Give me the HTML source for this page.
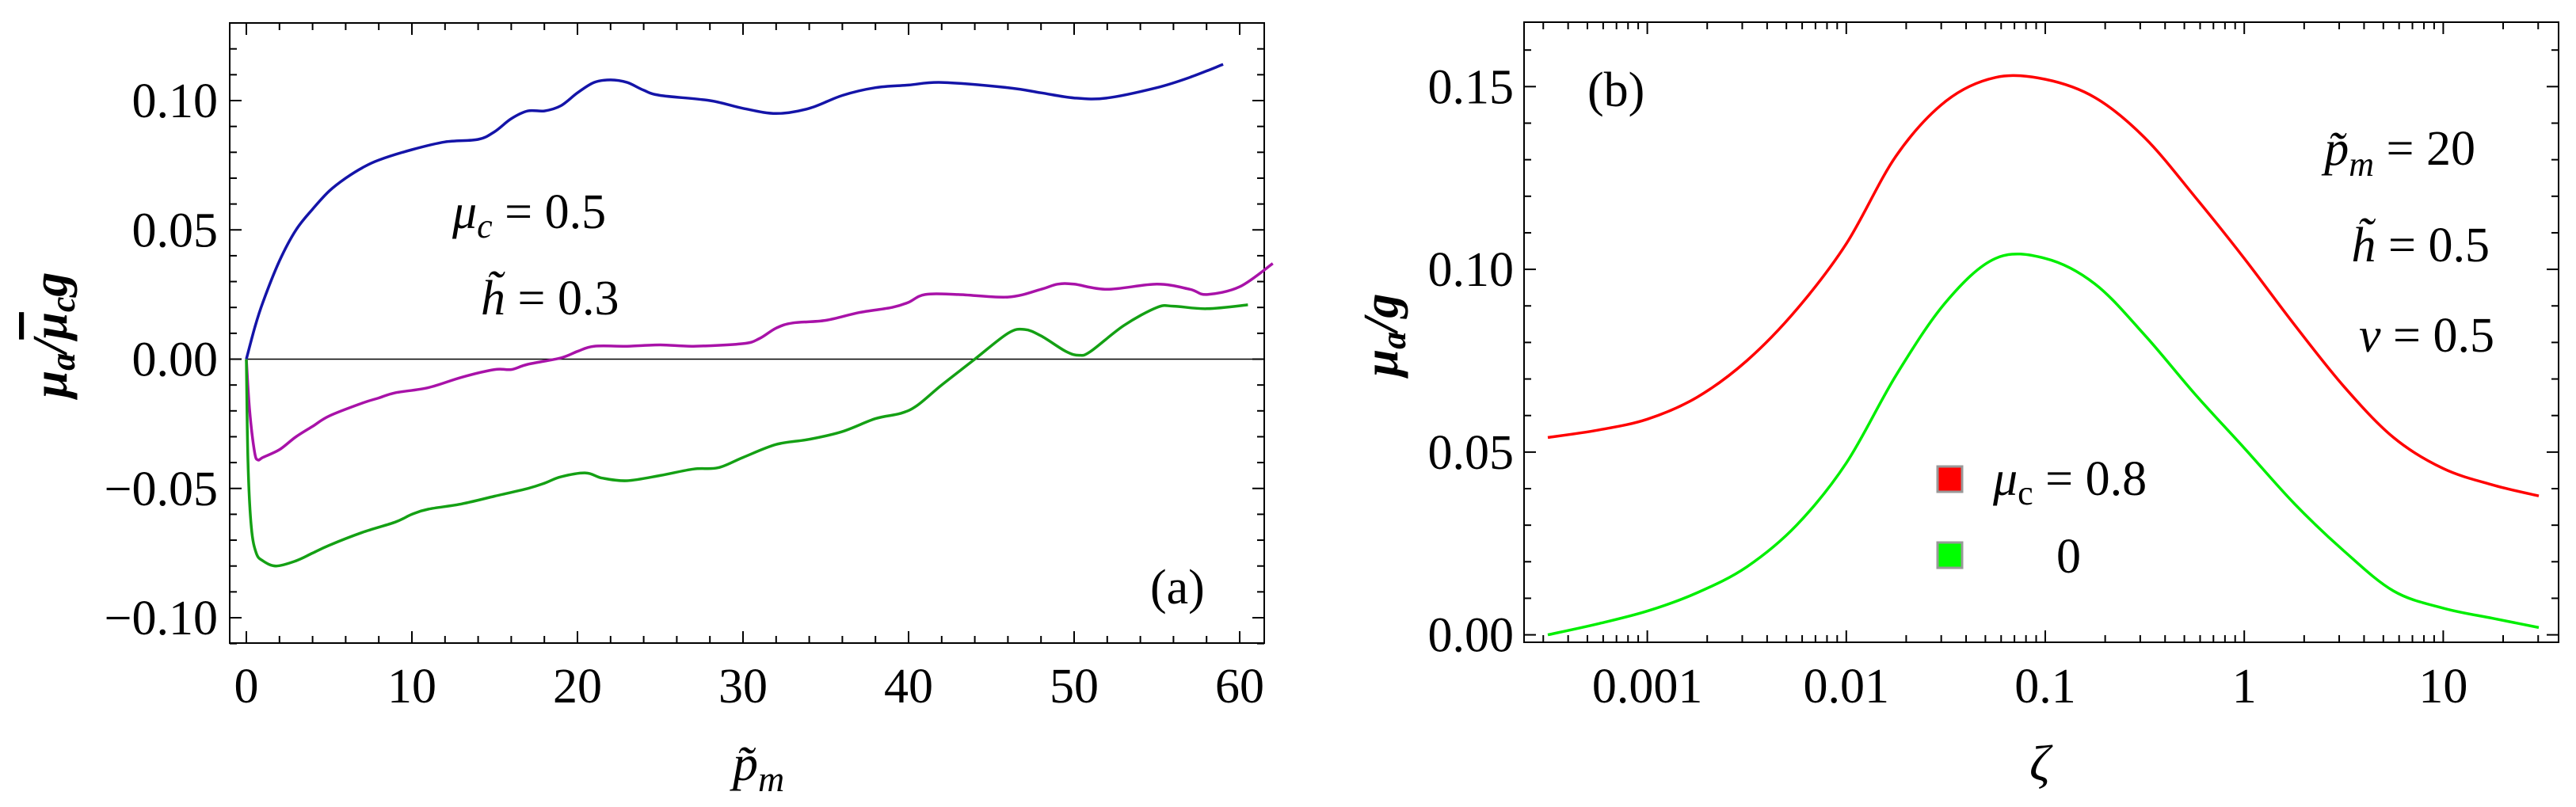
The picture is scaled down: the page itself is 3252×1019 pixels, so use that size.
<!DOCTYPE html>
<html><head><meta charset="utf-8"><style>
html,body{margin:0;padding:0;background:#fff;}
svg{display:block;font-family:"Liberation Serif","Times New Roman",serif;}
text{font-family:"Liberation Serif","Times New Roman",serif;fill:#000;}
</style></head><body>
<svg id="fig" width="3252" height="1019" viewBox="0 0 3252 1019" xmlns="http://www.w3.org/2000/svg" font-family="Liberation Serif, serif">
<g id="pa"></g>
<g id="pb"></g>
</svg>
<script>
// Panel (a) data
const aBlueX=[0,0.5,1,2,3,4,5,6,7,8,10,12,14,15,16,17,18,19,20,21,22,23,24,25,28,30,32,34,36,38,40,42,46,48,50,52,55,57,59];
const aBlueY=[0,0.012,0.022,0.038,0.05,0.058,0.065,0.07,0.074,0.077,0.081,0.084,0.085,0.088,0.093,0.096,0.096,0.098,0.103,0.107,0.108,0.107,0.104,0.102,0.1,0.097,0.095,0.097,0.102,0.105,0.106,0.107,0.105,0.103,0.101,0.101,0.105,0.109,0.114];
const aMagX=[0,0.2,0.5,0.7,1,2,3,4,5,7,8,9,11,13,15,16,17,19,20,21,23,25,27,30,31,32,33,35,37,39,40,41,43,46,48,49,50,52,55,57,58,60,62];
const aMagY=[0,-0.02,-0.036,-0.039,-0.038,-0.035,-0.03,-0.026,-0.022,-0.017,-0.015,-0.013,-0.011,-0.007,-0.004,-0.004,-0.002,0.0005,0.003,0.005,0.005,0.0055,0.005,0.006,0.008,0.012,0.014,0.015,0.018,0.02,0.022,0.025,0.025,0.024,0.027,0.029,0.029,0.027,0.029,0.027,0.025,0.028,0.037];
const aGrnX=[0,0.1,0.3,0.6,1,1.8,3,4,5,7,9,10,11,13,15,17,18,19,20.5,21.5,23,25,27,28.5,30,32,34,36,38,39.5,40.5,42,44,46,47,48,49.5,50.3,51,53,55,56,58,60.5];
const aGrnY=[0,-0.04,-0.065,-0.075,-0.078,-0.08,-0.078,-0.075,-0.072,-0.067,-0.063,-0.06,-0.058,-0.056,-0.053,-0.05,-0.048,-0.0455,-0.044,-0.046,-0.047,-0.045,-0.0425,-0.042,-0.038,-0.033,-0.031,-0.028,-0.023,-0.021,-0.018,-0.01,0,0.01,0.0115,0.009,0.003,0.0015,0.003,0.013,0.02,0.0205,0.0195,0.021];
const aXTicks=[0,10,20,30,40,50,60];
const aXTickLabels=["0","10","20","30","40","50","60"];
const aYTicks=[-0.10,-0.05,0,0.05,0.10];
const aYTickLabels=["\u22120.10","\u22120.05","0.00","0.05","0.10"];
// Panel (b) data (x as log10 zeta)
const bX=[-3.5,-3.25,-3,-2.75,-2.5,-2.25,-2,-1.75,-1.5,-1.25,-1,-0.75,-0.5,-0.25,0,0.25,0.5,0.75,1,1.25,1.48];
const bRedY=[0.054,0.056,0.059,0.065,0.075,0.089,0.107,0.131,0.146,0.1525,0.152,0.147,0.136,0.12,0.103,0.085,0.068,0.054,0.0455,0.041,0.038];
const bGrnY=[0.0,0.003,0.0065,0.0115,0.0186,0.03,0.047,0.071,0.091,0.103,0.103,0.096,0.082,0.066,0.0511,0.036,0.023,0.012,0.0073,0.0045,0.002];
const bXTicks=[-3,-2,-1,0,1];
const bXTickLabels=["0.001","0.01","0.1","1","10"];
const bYTicks=[0,0.05,0.10,0.15];
const bYTickLabels=["0.00","0.05","0.10","0.15"];

const NS="http://www.w3.org/2000/svg";
function mk(parent,tag,attrs,txt){const e=document.createElementNS(NS,tag);for(const k in attrs)e.setAttribute(k,attrs[k]);if(txt!==undefined)e.textContent=txt;parent.appendChild(e);return e;}
function path(pts){let d="M"+pts[0][0].toFixed(1)+","+pts[0][1].toFixed(1);
 for(let i=0;i<pts.length-1;i++){const p0=pts[Math.max(0,i-1)],p1=pts[i],p2=pts[i+1],p3=pts[Math.min(pts.length-1,i+2)];
 const c1=[p1[0]+(p2[0]-p0[0])/6,p1[1]+(p2[1]-p0[1])/6],c2=[p2[0]-(p3[0]-p1[0])/6,p2[1]-(p3[1]-p1[1])/6];
 d+=" C"+c1[0].toFixed(1)+","+c1[1].toFixed(1)+" "+c2[0].toFixed(1)+","+c2[1].toFixed(1)+" "+p2[0].toFixed(1)+","+p2[1].toFixed(1);}
 return d;}

// ---------- Panel A ----------
const A=document.getElementById('pa');
const aL=290,aR=1596,aT=29,aB=812;
const ax=v=>311+v*20.9;
const ay=v=>453.5-v*3265;
mk(A,'rect',{x:aL,y:aT,width:aR-aL,height:aB-aT,fill:'none',stroke:'#000','stroke-width':2,});
for(let v=0;v<=61;v+=2){const X=ax(v);const L=(v%10===0)?15:9;
 mk(A,'line',{x1:X,y1:aB,x2:X,y2:aB-L,stroke:'#000','stroke-width':2});
 mk(A,'line',{x1:X,y1:aT,x2:X,y2:aT+L,stroke:'#000','stroke-width':2});}
for(let i=-11;i<=13;i++){const v=i/100;const Y=ay(v);const L=(i%5===0)?15:9;
 mk(A,'line',{x1:aL,y1:Y,x2:aL+L,y2:Y,stroke:'#000','stroke-width':2});
 mk(A,'line',{x1:aR,y1:Y,x2:aR-L,y2:Y,stroke:'#000','stroke-width':2});}
aXTicks.forEach((v,i)=>{const t=mk(A,'text',{x:ax(v),y:887,'font-size':62,'text-anchor':'middle','font-family':'Liberation Serif, serif'},aXTickLabels[i]);
 
 });
aYTicks.forEach((v,i)=>{const t=mk(A,'text',{x:275,y:ay(v)+21,'font-size':62,'text-anchor':'end','font-family':'Liberation Serif, serif'},aYTickLabels[i]);
 
 });
const zl=mk(A,'line',{x1:ax(0),y1:ay(0),x2:aR,y2:ay(0),stroke:'#000','stroke-width':1.5});


[[aBlueX,aBlueY,'#1414a8','curve-blue'],[aMagX,aMagY,'#a812a8','curve-magenta'],[aGrnX,aGrnY,'#14a014','curve-green']].forEach(s=>{
 const pts=s[0].map((x,i)=>[ax(x),ay(s[1][i])]);
 const p=mk(A,'path',{d:path(pts),fill:'none',stroke:s[2],'stroke-width':3.5});
 
 });
</script>
<script>
(function(){const A=document.getElementById('pa');
A.insertAdjacentHTML('beforeend',
'<text transform="translate(84,423) rotate(-90)" text-anchor="middle" font-size="62" font-weight="bold" font-style="italic">μ<tspan font-size="44" dy="10">a</tspan><tspan dy="-10">/</tspan><tspan text-decoration="overline">μ</tspan><tspan font-size="44" dy="10">c</tspan><tspan dy="-10">g</tspan></text>'+
'<text x="925" y="985" font-size="64" font-style="italic">p̃<tspan font-size="46" dy="14">m</tspan></text>'+
'<text x="571" y="288" font-size="62"><tspan font-style="italic">μ</tspan><tspan font-style="italic" font-size="44" dy="12">c</tspan><tspan dy="-12"> = 0.5</tspan></text>'+
'<text x="607" y="397" font-size="62"><tspan font-style="italic">h̃</tspan> = 0.3</text>'+
'<text x="1452" y="762" font-size="62">(a)</text>');})();
</script>
<script>
(function(){
const B=document.getElementById('pb');
const bL=1924,bR=3230,bT=28,bB=811;
const bx=l=>2582+(l+1)*251.2;
const by=v=>801.6-v*4615;
mk(B,'rect',{x:bL,y:bT,width:bR-bL,height:bB-bT,fill:'none',stroke:'#000','stroke-width':2,});
for(let d=-4;d<=1;d++){for(let m=1;m<=9;m++){const l=d+Math.log10(m);const X=bx(l);if(X<bL||X>bR)continue;const L=m===1?15:9;
 mk(B,'line',{x1:X,y1:bB,x2:X,y2:bB-L,stroke:'#000','stroke-width':2});
 mk(B,'line',{x1:X,y1:bT,x2:X,y2:bT+L,stroke:'#000','stroke-width':2});}}
for(let i=0;i<=16;i++){const v=i/100;const Y=by(v);const L=(i%5===0)?15:9;
 mk(B,'line',{x1:bL,y1:Y,x2:bL+L,y2:Y,stroke:'#000','stroke-width':2});
 mk(B,'line',{x1:bR,y1:Y,x2:bR-L,y2:Y,stroke:'#000','stroke-width':2});}
bXTicks.forEach((v,i)=>{const t=mk(B,'text',{x:bx(v),y:887,'font-size':62,'text-anchor':'middle','font-family':'Liberation Serif, serif'},bXTickLabels[i]);
 
 });
bYTicks.forEach((v,i)=>{const t=mk(B,'text',{x:1911,y:by(v)+21,'font-size':62,'text-anchor':'end','font-family':'Liberation Serif, serif'},bYTickLabels[i]);
 
 });
[[bRedY,'#ff0000','curve-red'],[bGrnY,'#00ee00','curve-green-b']].forEach(s=>{
 const pts=bX.map((x,i)=>[bx(x),by(s[0][i])]);
 const p=mk(B,'path',{d:path(pts),fill:'none',stroke:s[1],'stroke-width':3.5});
 
 });
B.insertAdjacentHTML('beforeend',
'<text transform="translate(1764,423) rotate(-90)" text-anchor="middle" font-size="62" font-weight="bold" font-style="italic">μ<tspan font-size="44" dy="10">a</tspan><tspan dy="-10">/g</tspan></text>'+
'<text x="2575" y="985" text-anchor="middle" font-size="64" font-style="italic">ζ</text>'+
'<text x="2004" y="134" font-size="62">(b)</text>'+
'<text x="3125" y="208" text-anchor="end" font-size="62"><tspan font-style="italic">p̃</tspan><tspan font-style="italic" font-size="44" dy="14">m</tspan><tspan dy="-14"> = 20</tspan></text>'+
'<text x="3143" y="330" text-anchor="end" font-size="62"><tspan font-style="italic">h̃</tspan> = 0.5</text>'+
'<text x="3149" y="444" text-anchor="end" font-size="62"><tspan font-style="italic">ν</tspan> = 0.5</text>'+
'<rect x="2446" y="589" width="31" height="32" fill="#ff0000" stroke="#999" stroke-width="3"/>'+
'<text x="2516" y="625" font-size="62"><tspan font-style="italic">μ</tspan><tspan font-size="44" dy="12">c</tspan><tspan dy="-12"> = 0.8</tspan></text>'+
'<rect x="2446" y="685" width="31" height="32" fill="#00ff00" stroke="#999" stroke-width="3"/>'+
'<text x="2596" y="723" font-size="62">0</text>');
})();
</script>
</body></html>
